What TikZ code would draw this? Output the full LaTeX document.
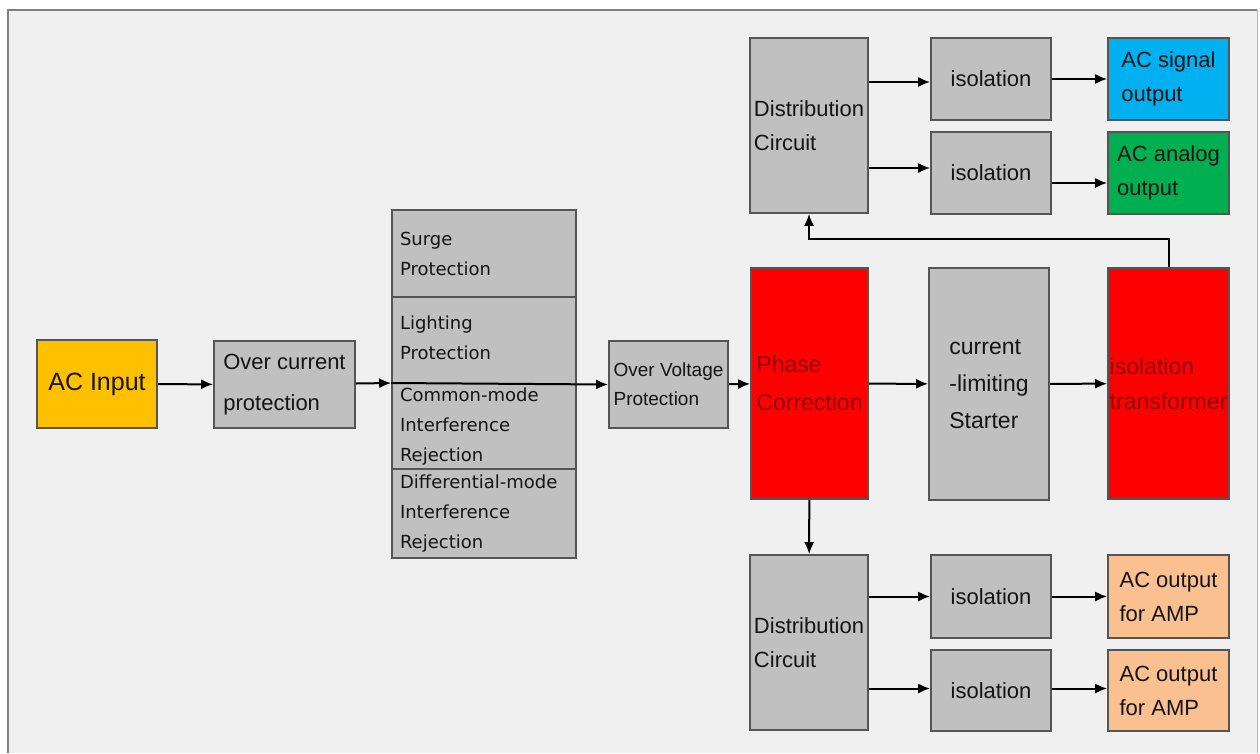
\documentclass[tikz,border=0pt]{standalone}
\usepackage{fontspec}
\setmainfont{Liberation Sans}
\newfontfamily\widefont{DejaVu Sans}
\usetikzlibrary{arrows.meta}
\definecolor{framebg}{HTML}{F0F0F0}
\definecolor{frameline}{HTML}{808080}
\definecolor{boxgray}{HTML}{C0C0C0}
\definecolor{boxline}{HTML}{555555}
\definecolor{textdark}{HTML}{141414}
\definecolor{inorange}{HTML}{FFC000}
\definecolor{phasered}{HTML}{FF0000}
\definecolor{redtext}{HTML}{8C0000}
\definecolor{sigblue}{HTML}{00B0F0}
\definecolor{anagreen}{HTML}{00B050}
\definecolor{amppeach}{HTML}{FAC090}
\begin{document}
\begin{tikzpicture}[x=1pt, y=-1pt,
        box/.style n args={2}{draw=boxline, line width=1.6pt, fill=boxgray, text=textdark,
            inner sep=0pt, minimum width=#1, minimum height=#2, align=left,
            font=\fontsize{22}{34}\selectfont},
        stackpart/.style={draw=boxline, line width=1.6pt, fill=boxgray, text=textdark,
            inner xsep=8pt, inner ysep=0pt, text width=168pt, minimum width=184pt, align=left,
            font=\widefont\fontsize{18}{30}\selectfont},
        redbox/.style={fill=phasered, text=redtext, font=\fontsize{23}{38}\selectfont},
        arr/.style={-{Latex[length=12pt,width=10pt]}, line width=2pt, black}]
        \useasboundingbox (0,0) rectangle (1260,753);
        \fill[white] (0,0) rectangle (1260,753);
        \fill[framebg] (8,10) rectangle (1257,753);
        \draw[frameline, line width=2pt] (8,753) -- (8,10) -- (1257,10);
        \draw[frameline!60, line width=1pt] (1257,10) -- (1257,753);

        \node[box={120pt}{88pt}, fill=inorange, font=\fontsize{25}{30}\selectfont] (acin) at (97,384) {AC Input};
        \node[box={141pt}{87pt}, font=\fontsize{22}{41}\selectfont] (ocp) at (284.5,384.5) {Over current\\protection};

        \node[stackpart, minimum height=87pt] (surge) at (484,253.5) {Surge\\Protection};
        \node[stackpart, minimum height=172pt] (mid) at (484,383) {\rule{0pt}{29pt}Lighting\\Protection\\[12pt]Common-mode\\Interference\\Rejection};
        \node[stackpart, minimum height=89pt] (diff) at (484,513.5) {Differential-mode\\Interference\\Rejection};

        \node[box={119pt}{87pt}, font=\fontsize{19}{29}\selectfont] (ovp) at (668.5,384.5) {Over Voltage\\Protection};
        \node[box={117pt}{231pt}, redbox] (phase) at (809.5,383.5) {Phase\\Correction};
        \node[box={120pt}{232pt}, font=\fontsize{23}{37}\selectfont] (cls) at (989,384) {current\\-limiting\\Starter};
        \node[box={121pt}{231pt}, redbox, font=\fontsize{23}{35}\selectfont] (xfmr) at (1168.5,383.5) {isolation\\transformer};

        \node[box={118pt}{175pt}] (dist1) at (809,125.5) {Distribution\\Circuit};
        \node[box={120pt}{82pt}] (iso1) at (991,79) {isolation};
        \node[box={120pt}{82pt}] (iso2) at (991,173) {isolation};
        \node[box={121pt}{82pt}, fill=sigblue] (sig) at (1168.5,79) {AC signal\\output};
        \node[box={121pt}{82pt}, fill=anagreen] (ana) at (1168.5,173) {AC analog\\output};

        \node[box={118pt}{175pt}] (dist2) at (809,642.5) {Distribution\\Circuit};
        \node[box={120pt}{83pt}] (isob1) at (991,596.5) {isolation};
        \node[box={120pt}{81pt}] (isob2) at (991,690.5) {isolation};
        \node[box={121pt}{83pt}, fill=amppeach] (amp1) at (1168.5,596.5) {AC output\\for AMP};
        \node[box={121pt}{81pt}, fill=amppeach] (amp2) at (1168.5,690.5) {AC output\\for AMP};

        \draw[arr] (acin) -- (ocp);
        \draw[arr] (ocp) -- (mid.west);
        \draw[arr] (mid.west) -- (ovp.west);
        \draw[arr] (ovp) -- (phase);
        \draw[arr] (phase) -- (cls);
        \draw[arr] (cls) -- (xfmr);
        \draw[arr] (xfmr.north) -- ++(0,-28) -| (dist1.south);
        \draw[arr] (phase) -- (dist2);

        \draw[arr] ([yshift=-3pt]dist1.east |- iso1.west) -- ([yshift=-3pt]iso1.west);
        \draw[arr] ([yshift=5pt]dist1.east |- iso2.west) -- ([yshift=5pt]iso2.west);
        \draw[arr] (iso1) -- (sig);
        \draw[arr] ([yshift=-10pt]iso2.east) -- ([yshift=-10pt]ana.west);

        \draw[arr] (dist2.east |- isob1.west) -- (isob1.west);
        \draw[arr] ([yshift=2pt]dist2.east |- isob2.west) -- ([yshift=2pt]isob2.west);
        \draw[arr] (isob1) -- (amp1);
        \draw[arr] ([yshift=2pt]isob2.east) -- ([yshift=2pt]amp2.west);
    \end{tikzpicture}
\end{document}
